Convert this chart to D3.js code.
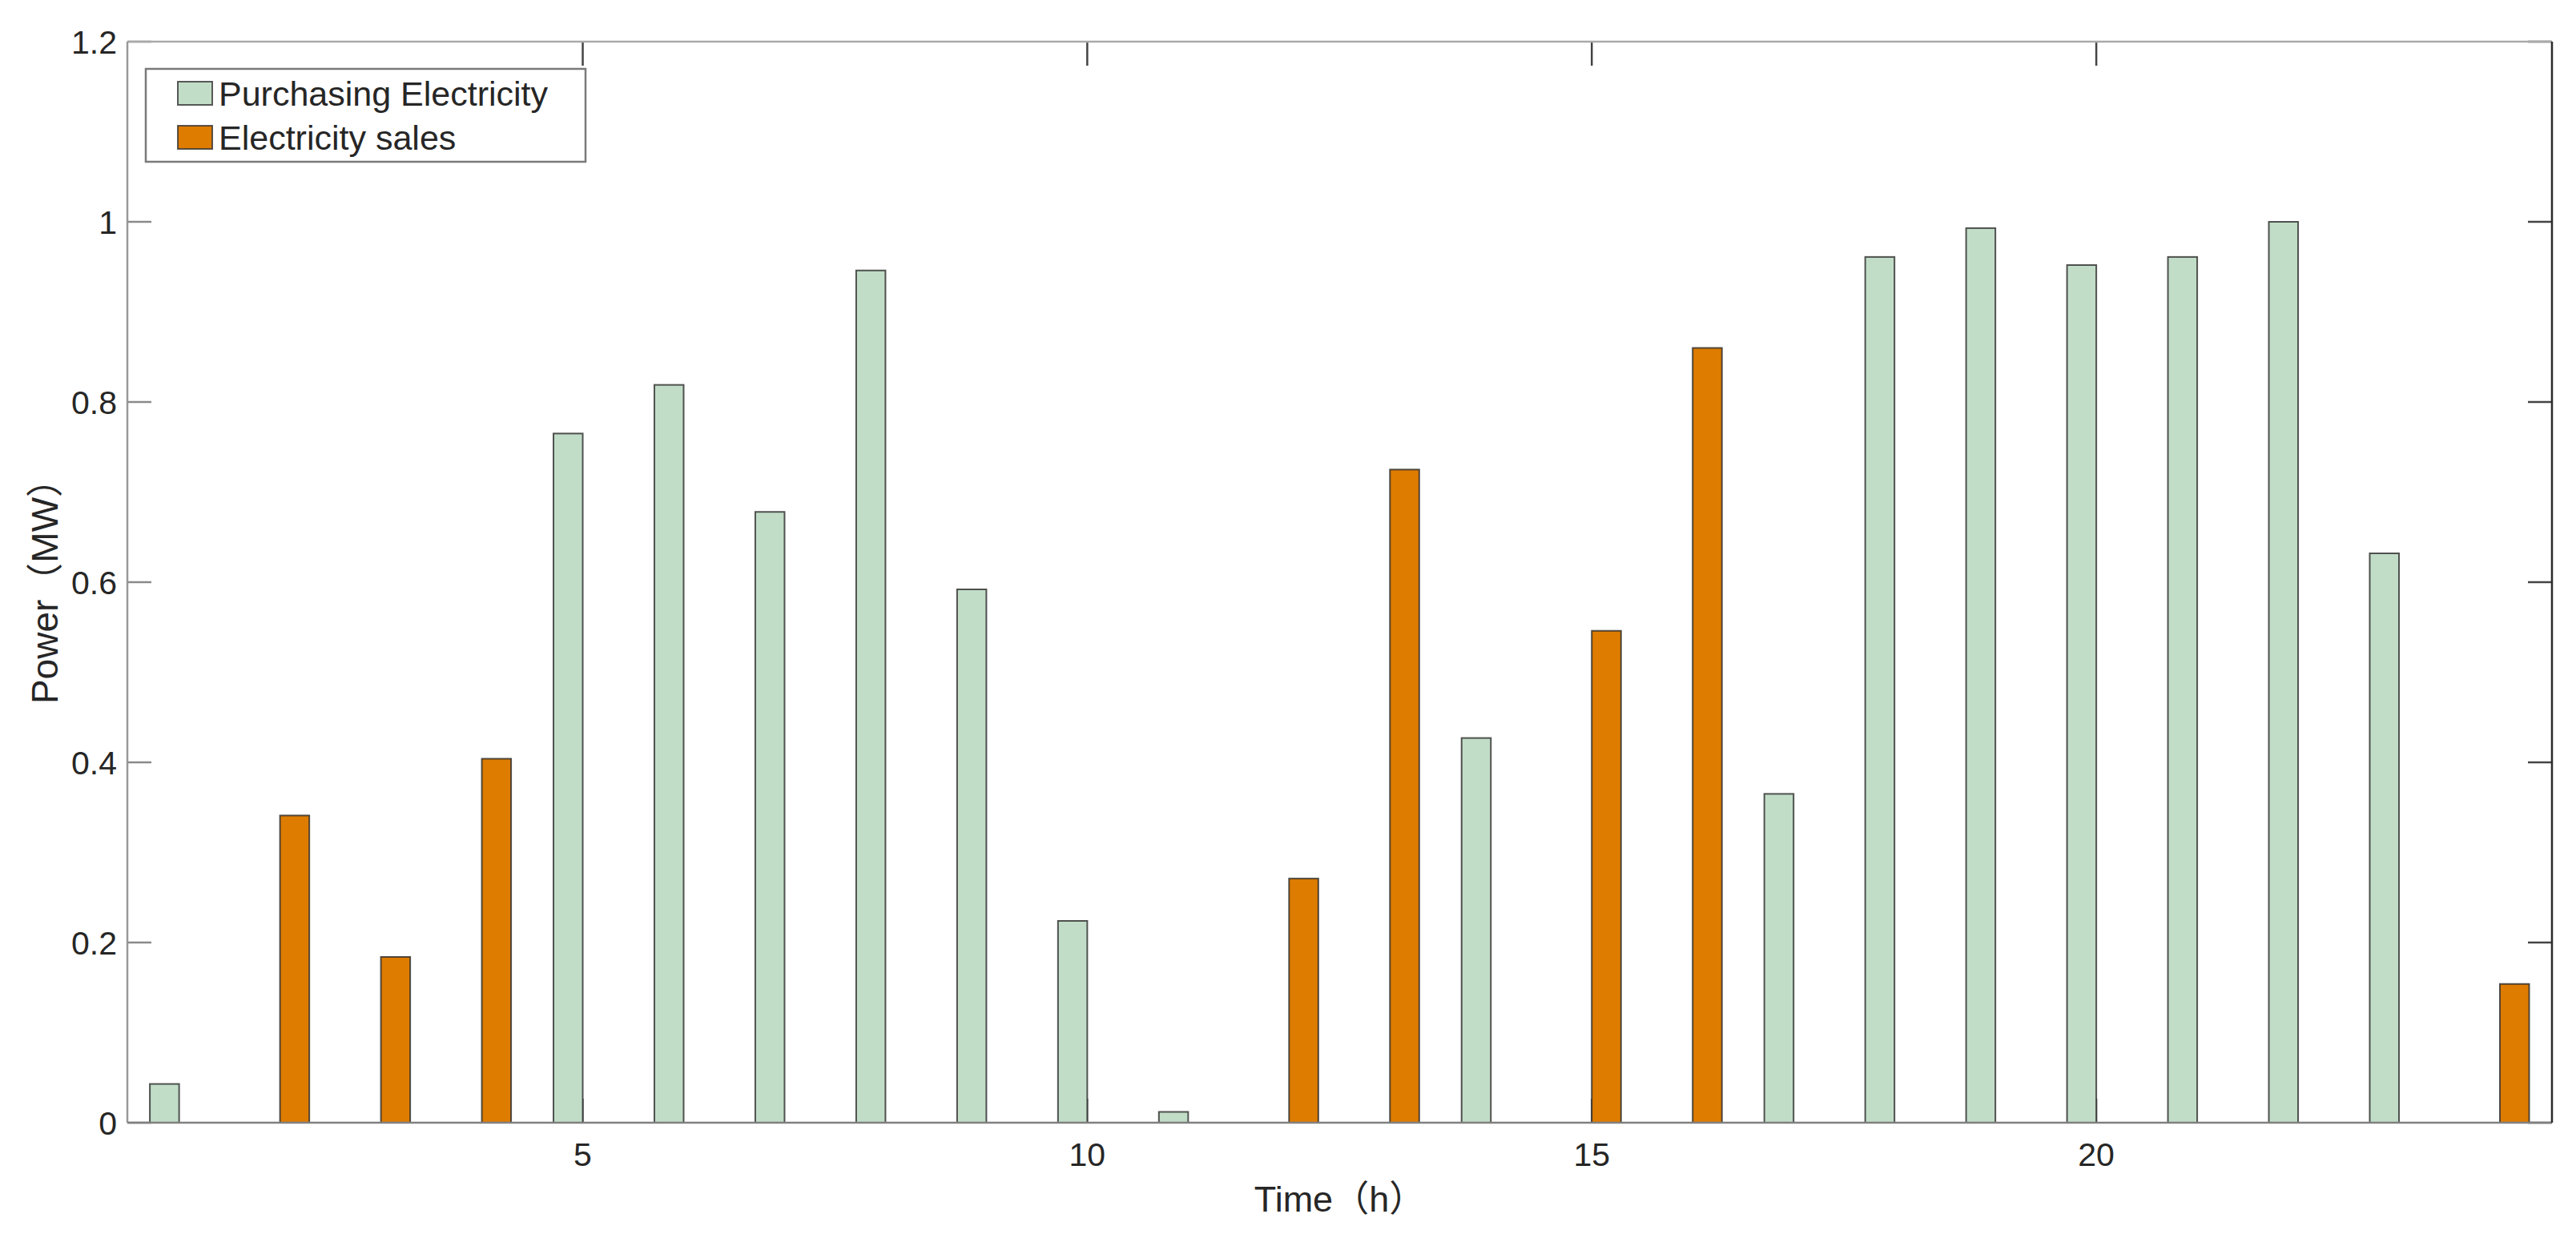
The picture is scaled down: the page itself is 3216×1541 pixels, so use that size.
<!DOCTYPE html>
<html>
<head>
<meta charset="utf-8">
<script src="https://cdn.jsdelivr.net/npm/d3@7"></script>
<style>
  html, body { margin: 0; padding: 0; background: #ffffff; }
  svg { display: block; }
  text { font-family: "Liberation Sans", Arial, Helvetica, "Noto Sans CJK SC", sans-serif; fill: #262626; }
</style>
</head>
<body>
<svg id="chart" width="3216" height="1541"></svg>
<script>
// ---- data ----
const hours = [1,2,3,4,5,6,7,8,9,10,11,12,13,14,15,16,17,18,19,20,21,22,23,24];
const purchasing = [0.043,0,0,0,0.765,0.819,0.678,0.946,0.592,0.224,0.012,0,0,0.427,0,0,0.365,0.961,0.993,0.952,0.961,1.0,0.632,0];
const sales      = [0,0.341,0.184,0.404,0,0,0,0,0,0,0,0.271,0.725,0,0.546,0.86,0,0,0,0,0,0,0,0.154];
const seriesNames = ["Purchasing Electricity", "Electricity sales"];
const xTicks = [5,10,15,20];
const yTicks = [0,0.2,0.4,0.6,0.8,1,1.2];
const xLabel = "Time（h）";
const yLabel = "Power（MW）";

// ---- layout ----
const W = 3216, H = 1541;
const L = 159, R = 3186, T = 52, B = 1402;
const colors = ["#c2ddc7", "#de7c00"];
const barW = 0.29;

const svg = d3.select("#chart");
svg.append("rect").attr("width", W).attr("height", H).attr("fill", "#fff");

const x = d3.scaleLinear().domain([0.487, 24.516]).range([L, R]);
const y = d3.scaleLinear().domain([0, 1.2]).range([B, T]);
const tickLen = 30;

// ticks (inside)
const axG = svg.append("g");
axG.selectAll(".yt").data(yTicks).enter().append("line")
  .attr("x1", L).attr("x2", L + tickLen).attr("y1", d => y(d)).attr("y2", d => y(d))
  .attr("stroke", "#8a8a8a").attr("stroke-width", 2.5);
axG.selectAll(".ytr").data(yTicks).enter().append("line")
  .attr("x1", R - tickLen).attr("x2", R).attr("y1", d => y(d)).attr("y2", d => y(d))
  .attr("stroke", "#444").attr("stroke-width", 2.5);
axG.selectAll(".xt").data(xTicks).enter().append("line")
  .attr("x1", d => x(d)).attr("x2", d => x(d)).attr("y1", T).attr("y2", T + tickLen)
  .attr("stroke", "#444").attr("stroke-width", 2.5);
axG.selectAll(".xtb").data(xTicks).enter().append("line")
  .attr("x1", d => x(d)).attr("x2", d => x(d)).attr("y1", B).attr("y2", B - tickLen)
  .attr("stroke", "#777").attr("stroke-width", 2.5);

// bars
const barData = [];
hours.forEach((h, i) => {
  if (purchasing[i] > 0) barData.push({h: h, v: purchasing[i], s: 0});
  if (sales[i] > 0) barData.push({h: h, v: sales[i], s: 1});
});
svg.append("g").selectAll("rect").data(barData).enter().append("rect")
  .attr("x", d => d.s === 0 ? x(d.h - barW) : x(d.h))
  .attr("width", x(barW) - x(0))
  .attr("y", d => y(d.v))
  .attr("height", d => y(0) - y(d.v))
  .attr("fill", d => colors[d.s])
  .attr("stroke", "#2a2a2a").attr("stroke-width", 2).attr("stroke-opacity", 0.8);

// box
const box = svg.append("g").attr("fill", "none").attr("stroke-width", 2.5);
box.append("line").attr("x1", L).attr("x2", R).attr("y1", T).attr("y2", T).attr("stroke", "#aaaaaa");
box.append("line").attr("x1", L).attr("x2", L).attr("y1", T).attr("y2", B).attr("stroke", "#999999");
box.append("line").attr("x1", L).attr("x2", R).attr("y1", B).attr("y2", B).attr("stroke", "#808080");
box.append("line").attr("x1", R).attr("x2", R).attr("y1", T).attr("y2", B).attr("stroke", "#2b2b2b");

// tick labels
svg.append("g").selectAll("text").data(yTicks).enter().append("text")
  .attr("x", L - 13).attr("y", d => y(d)).attr("dy", "0.36em")
  .attr("text-anchor", "end").attr("font-size", 41)
  .text(d => d3.format("~g")(d));
svg.append("g").selectAll("text").data(xTicks).enter().append("text")
  .attr("x", d => x(d)).attr("y", 1456)
  .attr("text-anchor", "middle").attr("font-size", 41)
  .text(d => d);

// axis labels
svg.append("text").attr("x", (L + R) / 2).attr("y", 1513)
  .attr("text-anchor", "middle").attr("font-size", 45).text(xLabel);
svg.append("text").attr("transform", `translate(72, ${(T + B) / 2}) rotate(-90)`)
  .attr("text-anchor", "middle").attr("font-size", 46).text(yLabel);

// legend
const lg = svg.append("g");
lg.append("rect").attr("x", 182).attr("y", 86).attr("width", 549).attr("height", 116)
  .attr("fill", "#fff").attr("stroke", "#7a7a7a").attr("stroke-width", 2.5);
seriesNames.forEach((name, i) => {
  const cy = 117 + i * 55;
  lg.append("rect").attr("x", 222).attr("y", cy - 15).attr("width", 43).attr("height", 29)
    .attr("fill", colors[i]).attr("stroke", "#333").attr("stroke-width", 2).attr("stroke-opacity", 0.8);
  lg.append("text").attr("x", 273).attr("y", cy).attr("dy", "0.36em")
    .attr("font-size", 43).text(name);
});
</script>
</body>
</html>
